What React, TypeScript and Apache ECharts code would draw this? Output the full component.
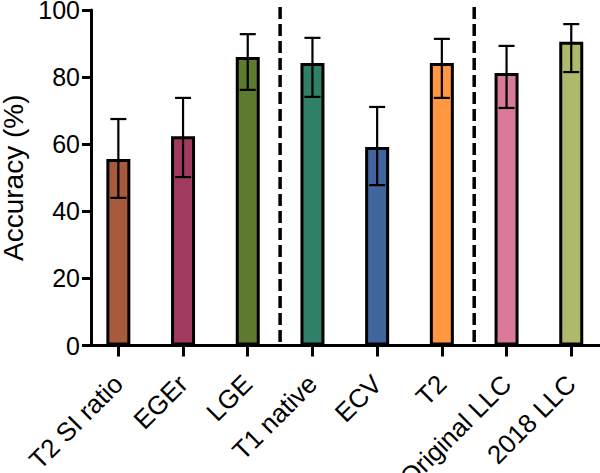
import React, { useEffect, useRef } from "react";
import * as echarts from "echarts";

const categories = ["T2 SI ratio", "EGEr", "LGE", "T1 native", "ECV", "T2", "Original LLC", "2018 LLC"];
const accuracy = [55.6, 62.4, 86.0, 84.2, 59.2, 84.2, 81.2, 90.5];
const ciUpper = [67.5, 73.8, 92.8, 91.7, 71.1, 91.4, 89.3, 95.8];
const ciLower = [44.0, 50.2, 76.2, 74.1, 47.8, 73.8, 70.8, 81.5];
const barColors = ["#A85A3C", "#A03A5E", "#5E7A2E", "#2E8068", "#41659F", "#FF9640", "#D97A9A", "#B0B86B"];
const separatorsAfter = [2, 5];
const yMin = 0;
const yMax = 100;
const yStep = 20;

const FONT = "'Liberation Sans', Arial, sans-serif";

export default function App() {
  const ref = useRef<HTMLDivElement>(null);
  useEffect(() => {
    if (!ref.current) return;
    const chart = echarts.init(ref.current, undefined, { renderer: "svg" });
    chart.setOption({
      animation: false,
      backgroundColor: "#ffffff",
      grid: {
        left: 86,
        top: 10,
        width: 517.6,
        height: 335.5,
        containLabel: false,
        outerBoundsMode: "none",
      },
      xAxis: {
        type: "category",
        data: categories,
        axisLine: { lineStyle: { color: "#000", width: 3 } },
        axisTick: { show: true, alignWithLabel: true, length: 11, lineStyle: { color: "#000", width: 3 } },
        axisLabel: {
          rotate: 45,
          interval: 0,
          margin: 34,
          fontSize: 26,
          color: "#000",
          fontFamily: FONT,
        },
      },
      yAxis: {
        type: "value",
        min: yMin,
        max: yMax,
        interval: yStep,
        offset: -5,
        name: "Accuracy (%)",
        nameLocation: "middle",
        nameGap: 65,
        nameTextStyle: { fontSize: 28, lineHeight: 24, color: "#000", fontFamily: FONT },
        axisLine: { show: true, lineStyle: { color: "#000", width: 3 } },
        axisTick: { show: true, length: 9, lineStyle: { color: "#000", width: 3 } },
        axisLabel: { margin: 11, fontSize: 25, lineHeight: 20, color: "#000", fontFamily: FONT },
        splitLine: { show: false },
      },
      series: [
        {
          type: "bar",
          data: accuracy.map((v, i) => ({
            value: v,
            itemStyle: { color: barColors[i], borderColor: "#000", borderWidth: 3 },
          })),
          barWidth: 24,
          z: 2,
        },
        {
          type: "custom",
          data: accuracy.map((_, i) => [i, ciLower[i], ciUpper[i]]),
          z: 3,
          renderItem: (params: any, api: any) => {
            const idx = api.value(0);
            const lo = api.coord([idx, api.value(1)]);
            const hi = api.coord([idx, api.value(2)]);
            const cap = 8;
            const style = { stroke: "#000", lineWidth: 2.2 };
            return {
              type: "group",
              children: [
                { type: "line", shape: { x1: lo[0], y1: lo[1], x2: hi[0], y2: hi[1] }, style },
                { type: "line", shape: { x1: hi[0] - cap, y1: hi[1], x2: hi[0] + cap, y2: hi[1] }, style },
                { type: "line", shape: { x1: lo[0] - cap, y1: lo[1], x2: lo[0] + cap, y2: lo[1] }, style },
              ],
            };
          },
        },
        {
          type: "custom",
          data: separatorsAfter.map((i) => [i]),
          z: 1,
          renderItem: (params: any, api: any) => {
            const idx = api.value(0);
            const a = api.coord([idx, yMin]);
            const b = api.coord([idx + 1, yMax]);
            const x = (a[0] + b[0]) / 2;
            return {
              type: "line",
              shape: { x1: x, y1: b[1] - 3, x2: x, y2: a[1] },
              style: { stroke: "#000", lineWidth: 3.5, lineDash: [12, 5] },
            };
          },
        },
      ],
    });
    return () => chart.dispose();
  }, []);
  return <div ref={ref} style={{ position: "fixed", left: 0, top: 0, width: 600, height: 473 }} />;
}
